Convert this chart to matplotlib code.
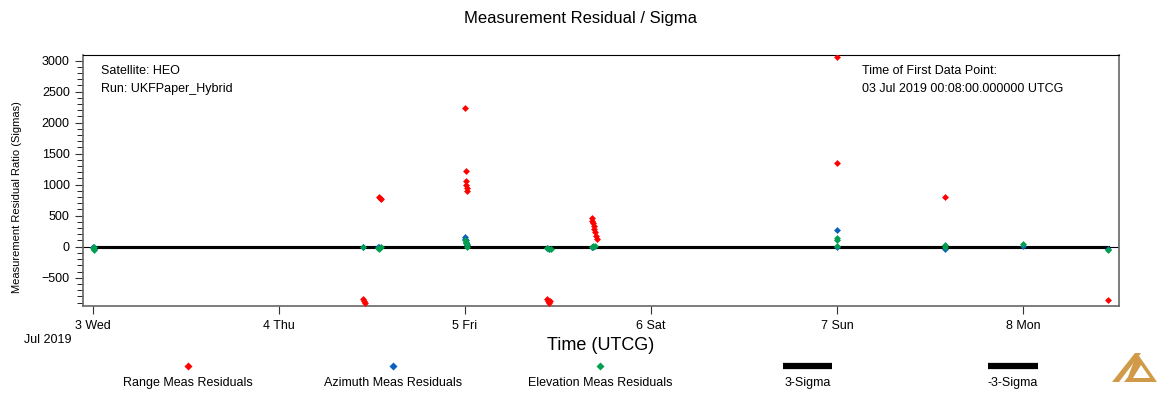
import datetime as dt
import matplotlib
matplotlib.use("Agg")
import matplotlib.pyplot as plt
import matplotlib.dates as mdates
from matplotlib.lines import Line2D
from matplotlib.patches import Polygon
from matplotlib.ticker import MultipleLocator

plt.rcParams['font.family'] = ['Liberation Sans', 'DejaVu Sans']

# ---- data (days after 03 Jul 2019 00:00 UTCG, residual/sigma) ----
range_t = [1.452, 1.456, 1.460, 1.540, 1.545, 1.550, 2.000, 2.005, 2.005, 2.007, 2.009, 2.011,
           2.440, 2.445, 2.450, 2.455, 2.680, 2.684, 2.688, 2.692, 2.696, 2.700, 2.704, 2.708,
           4.000, 4.002, 4.580, 5.455]
range_v = [-850, -880, -900, 800, 790, 775, 2230, 1225, 1060, 1000, 950, 900,
           -840, -870, -900, -880, 460, 420, 380, 330, 280, 230, 180, 130,
           3060, 1355, 806, -860]

az_t = [0.000, 0.005, 1.450, 1.530, 1.540, 2.000, 2.002, 2.004, 2.006, 2.008,
        2.440, 2.450, 2.680, 2.690, 4.000, 4.000, 4.580, 5.000, 5.455]
az_v = [-10, -30, -5, -10, -5, 160, 130, 100, 60, 20,
        -20, -30, -10, 0, 270, 0, -30, 10, -40]

el_t = [0.000, 0.003, 0.006, 1.450, 1.530, 1.540, 1.550, 2.000, 2.003, 2.006, 2.009, 2.010,
        2.440, 2.450, 2.460, 2.680, 2.690, 2.700, 4.000, 4.002, 4.000, 4.580, 4.580, 5.000, 5.455]
el_v = [-20, -50, -10, -10, -20, -30, -10, 100, 80, 60, 40, 0,
        -20, -40, -30, 0, 10, 5, 140, 100, 5, 20, -5, 40, -55]

sigma_t = [0.0, 5.455]
sigma_pos = [3, 3]
sigma_neg = [-3, -3]

legend_labels = ["Range Meas Residuals", "Azimuth Meas Residuals", "Elevation Meas Residuals",
                 "3-Sigma", "-3-Sigma"]

t0 = dt.datetime(2019, 7, 3)
def to_dt(ts):
    return [t0 + dt.timedelta(days=d) for d in ts]

RED = '#ff0000'
BLUE = '#0a5fc0'
GREEN = '#00a050'

fig = plt.figure(figsize=(11.59, 4.03), dpi=100)
ax = fig.add_axes([83/1159, 1 - 306/403, (1119-83)/1159, (306-55)/403])

ax.axhline(0, color='black', lw=0.8, zorder=1)
ax.plot(to_dt(sigma_t), sigma_pos, color='black', lw=2.2, zorder=2)
ax.plot(to_dt(sigma_t), sigma_neg, color='black', lw=2.2, zorder=2)

ms = 3.5
ax.plot(to_dt(range_t), range_v, 'D', color=RED, ms=ms, mec='none', zorder=3)
ax.plot(to_dt(az_t), az_v, 'D', color=BLUE, ms=ms, mec='none', zorder=3)
ax.plot(to_dt(el_t), el_v, 'D', color=GREEN, ms=ms, mec='none', zorder=4)

ax.set_xlim(t0 - dt.timedelta(days=0.054), t0 + dt.timedelta(days=5.516))
ax.set_ylim(-956, 3090)

ax.xaxis.set_major_locator(mdates.DayLocator())
ax.xaxis.set_major_formatter(mdates.DateFormatter('%-d %a'))
ax.yaxis.set_major_locator(MultipleLocator(500))
ax.yaxis.set_minor_locator(MultipleLocator(100))
ax.tick_params(axis='both', labelsize=9, direction='out', colors='#333333', labelcolor='black')
ax.tick_params(axis='y', which='major', length=6)
ax.tick_params(axis='y', which='minor', length=4)
ax.tick_params(axis='x', length=6, pad=4)

for s in ['left', 'bottom', 'right']:
    ax.spines[s].set_color('#666666')
    ax.spines[s].set_linewidth(1.2)
ax.spines['top'].set_color('black')

ax.set_ylabel('Measurement Residual Ratio (Sigmas)', fontsize=8)
ax.set_xlabel('Time (UTCG)', fontsize=13)
ax.xaxis.set_label_coords((601-83)/(1119-83), -0.124)
ax.yaxis.set_label_coords(-0.059, 0.434)

fig.text(580/1159, 1 - 18/403, 'Measurement Residual / Sigma', ha='center', va='center', fontsize=12)
fig.text(48/1159, 1 - 340/403, 'Jul 2019', ha='center', va='center', fontsize=9)

ax.text(0.017, 0.935, 'Satellite: HEO', transform=ax.transAxes, fontsize=9, va='center')
ax.text(0.017, 0.865, 'Run: UKFPaper_Hybrid', transform=ax.transAxes, fontsize=9, va='center')
ax.text(0.752, 0.935, 'Time of First Data Point:', transform=ax.transAxes, fontsize=9, va='center')
ax.text(0.752, 0.865, '03 Jul 2019 00:08:00.000000 UTCG', transform=ax.transAxes, fontsize=9, va='center')

# ---- manual legend (marker above label) ----
ly_mark = 1 - 366/403
ly_text = 1 - 383/403
for x, col, lab in [(188, RED, legend_labels[0]), (393, BLUE, legend_labels[1]), (600, GREEN, legend_labels[2])]:
    fig.add_artist(Line2D([x/1159], [ly_mark], marker='D', color=col, ms=4.5, mec='none', ls='none',
                          transform=fig.transFigure))
    fig.text(x/1159, ly_text, lab, ha='center', va='center', fontsize=9)
for x0, x1, lab in [(783, 832, legend_labels[3]), (988, 1038, legend_labels[4])]:
    fig.add_artist(Line2D([x0/1159, x1/1159], [ly_mark, ly_mark], color='black', lw=4.5,
                          transform=fig.transFigure, solid_capstyle='butt'))
    fig.text((x0 + x1)/2/1159, ly_text, lab, ha='center', va='center', fontsize=9)

# ---- logo ----
GOLD = '#d09a48'
def P(pts):
    return [(px/1159, 1 - py/403) for px, py in pts]
# left stroke
fig.add_artist(Polygon(P([(1112, 382), (1119, 382), (1141, 353), (1135, 353)]), closed=True,
                       color=GOLD, transform=fig.transFigure, lw=0))
# right triangle with hollow
fig.add_artist(Polygon(P([(1137, 353), (1157, 382), (1124, 382), (1128, 377)]), closed=True,
                       color=GOLD, transform=fig.transFigure, lw=0))
fig.add_artist(Polygon(P([(1141, 365), (1150, 378), (1133, 378)]), closed=True,
                       color='white', transform=fig.transFigure, lw=0))

fig.savefig('out.png', dpi=100)
